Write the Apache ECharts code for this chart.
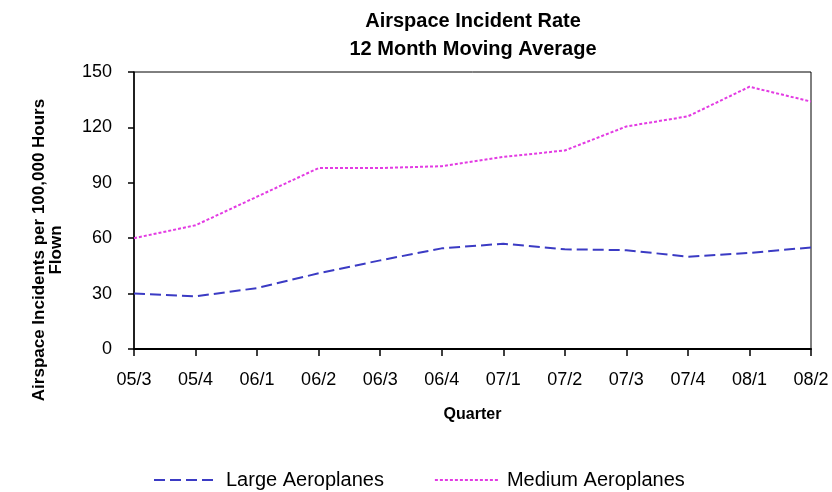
<!DOCTYPE html>
<html>
<head>
<meta charset="utf-8">
<script src="https://cdn.jsdelivr.net/npm/echarts@6/dist/echarts.min.js"></script>
<style>html,body{margin:0;padding:0;background:#fff;}#c{width:832px;height:492px;}</style>
</head>
<body>
<div id="c"></div>
<script>
var quarters = ['05/3','05/4','06/1','06/2','06/3','06/4','07/1','07/2','07/3','07/4','08/1','08/2'];
var largeAeroplanes = [30, 28.5, 33, 41, 48, 54.5, 57, 54, 53.5, 50, 52, 55];
var mediumAeroplanes = [60, 67, 82.5, 98, 98, 99, 104, 107.5, 120.5, 126, 142, 134];
var yTicks = [0, 30, 60, 90, 120, 150];

var chart = echarts.init(document.getElementById('c'), null, {renderer: 'canvas'});
var FONT = 'Liberation Sans, Arial, sans-serif';
chart.setOption({
  backgroundColor: '#fff',
  animation: false,
  title: {
    text: 'Airspace Incident Rate\n12 Month Moving Average',
    left: 468, top: 2, textAlign: 'center',
    textStyle: {fontFamily: FONT, fontWeight: 'bold', fontSize: 20, lineHeight: 28, color: '#000'}
  },
  legend: {
    left: 148, top: 465,
    itemWidth: 64, itemHeight: 14, itemGap: 50,
    itemStyle: {opacity: 0},
    textStyle: {fontFamily: FONT, fontSize: 20, color: '#000', padding: [0, 0, 0, 3]},
    data: ['Large Aeroplanes', 'Medium Aeroplanes']
  },
  grid: {left: 134, right: 21, top: 72, bottom: 143, show: true, borderColor: '#000', borderWidth: 1, backgroundColor: '#fff'},
  xAxis: {
    type: 'category', data: quarters, boundaryGap: false,
    name: 'Quarter', nameLocation: 'middle', nameGap: 58,
    nameTextStyle: {fontFamily: FONT, fontWeight: 'bold', fontSize: 16, color: '#000'},
    axisLine: {lineStyle: {color: '#000', width: 2}},
    axisTick: {show: true, length: 7, alignWithLabel: true, lineStyle: {color: '#000', width: 1.5}},
    axisLabel: {fontFamily: FONT, fontSize: 18, color: '#000', margin: 22},
    splitLine: {show: false}
  },
  yAxis: {
    type: 'value', min: yTicks[0], max: yTicks[yTicks.length - 1], interval: yTicks[1] - yTicks[0],
    axisLine: {show: true, lineStyle: {color: '#000', width: 1.5}},
    axisTick: {show: true, length: 6, lineStyle: {color: '#000', width: 1.5}},
    axisLabel: {fontFamily: FONT, fontSize: 18, color: '#000', margin: 22},
    splitLine: {show: false}
  },
  graphic: [{
    type: 'text', x: 48, y: 250, rotation: Math.PI / 2,
    style: {
      text: 'Airspace Incidents per 100,000 Hours\nFlown',
      fontFamily: FONT, fontWeight: 'bold', fontSize: 17, lineHeight: 17,
      fill: '#000', align: 'center', verticalAlign: 'middle'
    }
  }],
  series: [{
    name: 'Large Aeroplanes', type: 'line', data: largeAeroplanes,
    showSymbol: false, symbol: 'none',
    lineStyle: {color: '#3b3bc4', width: 2, type: [11, 5]},
    itemStyle: {color: '#3b3bc4'}
  }, {
    name: 'Medium Aeroplanes', type: 'line', data: mediumAeroplanes,
    showSymbol: false, symbol: 'none',
    lineStyle: {color: '#e33be3', width: 2, type: [3, 2]},
    itemStyle: {color: '#e33be3'}
  }]
});
</script>
</body>
</html>
